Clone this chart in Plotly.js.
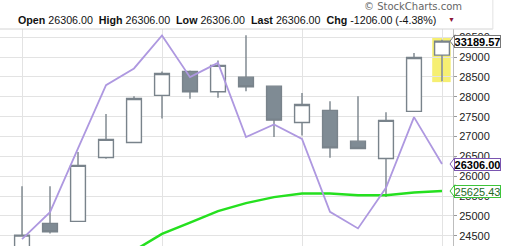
<!DOCTYPE html>
<html>
<head>
<meta charset="utf-8">
<script src="https://cdn.plot.ly/plotly-3.0.1.min.js"></script>
<style>html,body{margin:0;padding:0;background:#fff;}#chart{width:505px;height:246px;}</style>
</head>
<body>
<div id="chart"></div>
<script>
// ---- data ----
const periods = [0,1,2,3,4,5,6,7,8,9,10,11,12,13,14,15];
const opens  = [24150, 24809, 24860, 26472, 26850, 28035, 28640, 28126, 28496, 28269, 27354, 27657, 26883, 26447, 27632, 29050];
const highs  = [25749, 25749, 26606, 27564, 28017, 28640, 28660, 28917, 29554, 28269, 28093, 27891, 28017, 27614, 29101, 29440];
const lows   = [24100, 24557, 24860, 26437, 26850, 27455, 27949, 27974, 28143, 26984, 27027, 26462, 26699, 25472, 27632, 28395];
const closes = [24514, 24598, 26271, 26926, 27959, 28589, 28126, 28791, 28252, 27412, 27808, 26714, 26699, 27405, 28992, 29403];
const purpleLine = [24414, 25094, 26700, 28294, 28715, 29547, 28496, 28856, 26984, 27304, 26941, 25102, 24683, 25706, 27488, 26306];
const greenLine  = [null, null, null, null, 24121, 24547, 24829, 25119, 25321, 25472, 25565, 25565, 25522, 25522, 25590, 25625.43];
const gridPeriods = [0, 5, 10, 15];
const priceLabels = ["33189.57", "26306.00", "25625.43"];
const headerNames = ["Open", "High", "Low", "Last", "Chg"];
const headerValues = ["26306.00", "26306.00", "26306.00", "26306.00", "-1206.00 (-4.38%)"];
const yTickStep = 500;

// ---- styles ----
const candleLine = '#79838b';
const candleFill = '#7f8b94';
const purple = '#ae98e0';
const green = '#25e01f';
const font = 'Liberation Sans, Arial, sans-serif';

const last = periods.length - 1;

const traces = [
  {
    type: 'scatter', mode: 'lines', x: periods, y: greenLine,
    line: {color: green, width: 2.5}, hoverinfo: 'skip', showlegend: false
  },
  {
    type: 'candlestick', x: periods, open: opens, high: highs, low: lows, close: closes,
    increasing: {line: {color: candleLine, width: 1.4}, fillcolor: '#ffffff'},
    decreasing: {line: {color: candleLine, width: 1.4}, fillcolor: candleFill},
    whiskerwidth: 0, hoverinfo: 'skip', showlegend: false
  },
  {
    type: 'scatter', mode: 'lines', x: periods, y: purpleLine,
    line: {color: purple, width: 1.8}, hoverinfo: 'skip', showlegend: false
  }
];

const lastVals = [closes[last], purpleLine[last], greenLine[last]];
const labelColors = ['#777777', '#7a55b0', '#3ec43a'];
const labelTextColors = ['#000000', '#000000', '#1f6a1f'];
const labelBold = [true, true, false];

const annotations = [];
const shapes = [
  {type: 'rect', xref: 'x', yref: 'y', layer: 'below',
   x0: periods[last] - 0.35, x1: periods[last] + 0.31,
   y0: lows[last] - 25, y1: highs[last] + 45,
   fillcolor: '#f6ef72', line: {width: 0}},
  {type: 'line', xref: 'paper', yref: 'paper', x0: 0, x1: 1.088, y0: 1, y1: 1,
   line: {color: '#d4d4d4', width: 1}},
  {type: 'line', xref: 'paper', yref: 'paper', x0: 1.088, x1: 1.088, y0: 1, y1: 1.14,
   line: {color: '#e2e2e2', width: 1}}
];

for (let i = 0; i < priceLabels.length; i++) {
  annotations.push({
    xref: 'paper', yref: 'y', x: 1, y: lastVals[i], xanchor: 'left', yanchor: 'middle', xshift: 1,
    text: labelBold[i] ? '<b>' + priceLabels[i] + '</b>' : priceLabels[i],
    showarrow: false, bgcolor: '#ffffff', bordercolor: labelColors[i], borderwidth: 1, borderpad: 0,
    width: 45, height: 11, align: 'center',
    font: {family: font, size: 11, color: labelTextColors[i]}
  });
  shapes.push({
    type: 'path', xref: 'paper', yref: 'y', xsizemode: 'pixel', ysizemode: 'pixel',
    xanchor: 1, yanchor: lastVals[i], path: 'M2,6.5L-3,0L2,-6.5',
    fillcolor: '#ffffff', line: {color: labelColors[i], width: 1}, layer: 'above'
  });
}

let header = '';
for (let i = 0; i < headerNames.length; i++) {
  header += (i ? '\u00a0\u00a0' : '') + '<b>' + headerNames[i] + '</b> ' + headerValues[i];
}
annotations.push({
  xref: 'paper', yref: 'paper', x: 0.036, y: 1.043, xanchor: 'left', yanchor: 'middle',
  text: header, showarrow: false, font: {family: font, size: 10.7, color: '#111111'}
});
annotations.push({
  xref: 'paper', yref: 'paper', x: 0.997, y: 1.043, xanchor: 'center', yanchor: 'middle',
  text: '\u25BC', showarrow: false, font: {family: font, size: 7, color: '#8b1538'}
});
annotations.push({
  xref: 'paper', yref: 'paper', x: 0.80, y: 1.103, xanchor: 'left', yanchor: 'middle',
  text: '\u00a9 StockCharts.com', showarrow: false, font: {family: 'DejaVu Sans, sans-serif', size: 10, color: '#666666'}
});

const layout = {
  width: 505, height: 246,
  margin: {l: 0, r: 52, t: 29, b: 0, pad: 0},
  paper_bgcolor: '#ffffff', plot_bgcolor: '#ffffff',
  showlegend: false, hovermode: false,
  boxgap: 0.47, boxgroupgap: 0,
  xaxis: {
    range: [-0.786, 15.393], tickvals: gridPeriods, showticklabels: false, ticks: '',
    showgrid: true, gridcolor: '#e3e3e3', gridwidth: 1, zeroline: false, showline: false,
    rangeslider: {visible: false}, fixedrange: true
  },
  yaxis: {
    side: 'right', range: [24240, 29709], dtick: yTickStep, tick0: 0,
    showgrid: true, gridcolor: '#e3e3e3', gridwidth: 1, zeroline: false,
    showline: true, linecolor: '#bdbdbd', linewidth: 1,
    ticks: 'outside', ticklen: 3, tickcolor: '#9a9a9a', tickformat: 'd',
    tickfont: {family: font, size: 11, color: '#222222'}, fixedrange: true
  },
  shapes: shapes,
  annotations: annotations
};

Plotly.newPlot('chart', traces, layout, {displayModeBar: false, staticPlot: true});
</script>
</body>
</html>
